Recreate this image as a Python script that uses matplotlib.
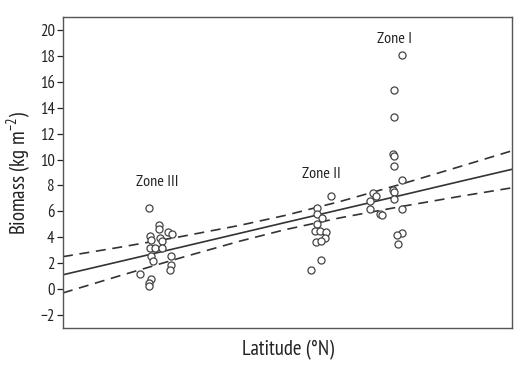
import matplotlib
matplotlib.use("Agg")
import matplotlib.pyplot as plt
import numpy as np

plt.rcParams['font.family'] = ['PT Sans Narrow', 'Roboto Condensed', 'Fira Sans Condensed',
                               'Archivo Narrow', 'DejaVu Sans']

# latitude on an arbitrary 0-100 scale (no ticks shown in the original)
zone3_x = [19.15, 21.31, 21.45, 23.45, 24.21, 19.38, 19.53, 21.60, 21.98, 19.38, 20.49, 21.98,
           19.53, 20.11, 24.05, 23.99, 23.83, 17.15, 19.60, 19.22, 19.09]
zone3_y = [6.28, 4.91, 4.65, 4.39, 4.26, 4.08, 3.82, 3.95, 3.69, 3.18, 3.18, 3.18,
           2.52, 2.13, 2.52, 1.88, 1.49, 1.18, 0.77, 0.46, 0.27]

zone2_x = [59.69, 56.50, 56.50, 57.75, 56.50, 56.12, 57.24, 58.51, 58.35, 56.28, 57.46, 57.39, 55.23]
zone2_y = [7.18, 6.28, 5.76, 5.50, 5.04, 4.46, 4.46, 4.39, 3.95, 3.61, 3.69, 2.27, 1.49]

zone1_x = [75.43, 73.79, 73.79, 73.56, 73.72, 73.79, 75.50, 73.56, 73.79, 73.79, 68.98, 69.71,
           68.37, 68.37, 70.60, 70.98, 75.50, 75.43, 74.45, 74.54]
zone1_y = [18.05, 15.41, 13.29, 10.42, 10.29, 9.51, 8.42, 7.65, 7.49, 6.93, 7.39, 7.18,
           6.79, 6.20, 5.76, 5.68, 6.20, 4.34, 4.21, 3.51]

fit_x = [0, 12.7, 26.1, 39.4, 49.4, 61.7, 75.1, 88.4, 100]
fit_y = [1.10, 2.13, 3.22, 4.31, 5.13, 6.13, 7.22, 8.31, 9.25]
ci_upper = [2.50, 3.23, 4.04, 4.92, 5.68, 6.76, 8.08, 9.46, 10.68]
ci_lower = [-0.30, 1.03, 2.40, 3.70, 4.58, 5.50, 6.36, 7.16, 7.82]

zone_labels = ["Zone III", "Zone II", "Zone I"]
label_x = [20.9, 57.6, 73.9]
label_y = [8.3, 8.9, 19.3]

fig = plt.figure(figsize=(5.29, 3.73), dpi=100)
ax = fig.add_axes([0.119, 0.121, 0.849, 0.833])

line_col = '#333333'
ax.plot(fit_x, fit_y, color=line_col, lw=1.2)
ax.plot(fit_x, ci_upper, color=line_col, lw=1.2, dashes=(6, 4))
ax.plot(fit_x, ci_lower, color=line_col, lw=1.2, dashes=(6, 4))

for xs, ys in [(zone3_x, zone3_y), (zone2_x, zone2_y), (zone1_x, zone1_y)]:
    ax.scatter(xs, ys, s=26, facecolors='white', edgecolors='#444444', linewidths=0.9, zorder=3)

for lab, lx, ly in zip(zone_labels, label_x, label_y):
    ax.text(lx, ly, lab, ha='center', va='center', fontsize=11.5, color='#222222')

ax.set_xlim(0, 100)
ax.set_ylim(-3, 21)
ax.set_yticks(np.arange(-2, 21, 2))
ax.set_xticks([])
ax.tick_params(axis='y', labelsize=12, length=4, width=0.9, colors='#222222', pad=2)
for sp in ax.spines.values():
    sp.set_color('#555555')
    sp.set_linewidth(1.0)

ax.set_ylabel(r'Biomass (kg m$^{\mathregular{-2}}$)', fontsize=15, color='#222222', labelpad=5)
ax.set_xlabel('Latitude (°N)', fontsize=15, color='#222222', labelpad=9)

fig.savefig("out.png", dpi=100)
